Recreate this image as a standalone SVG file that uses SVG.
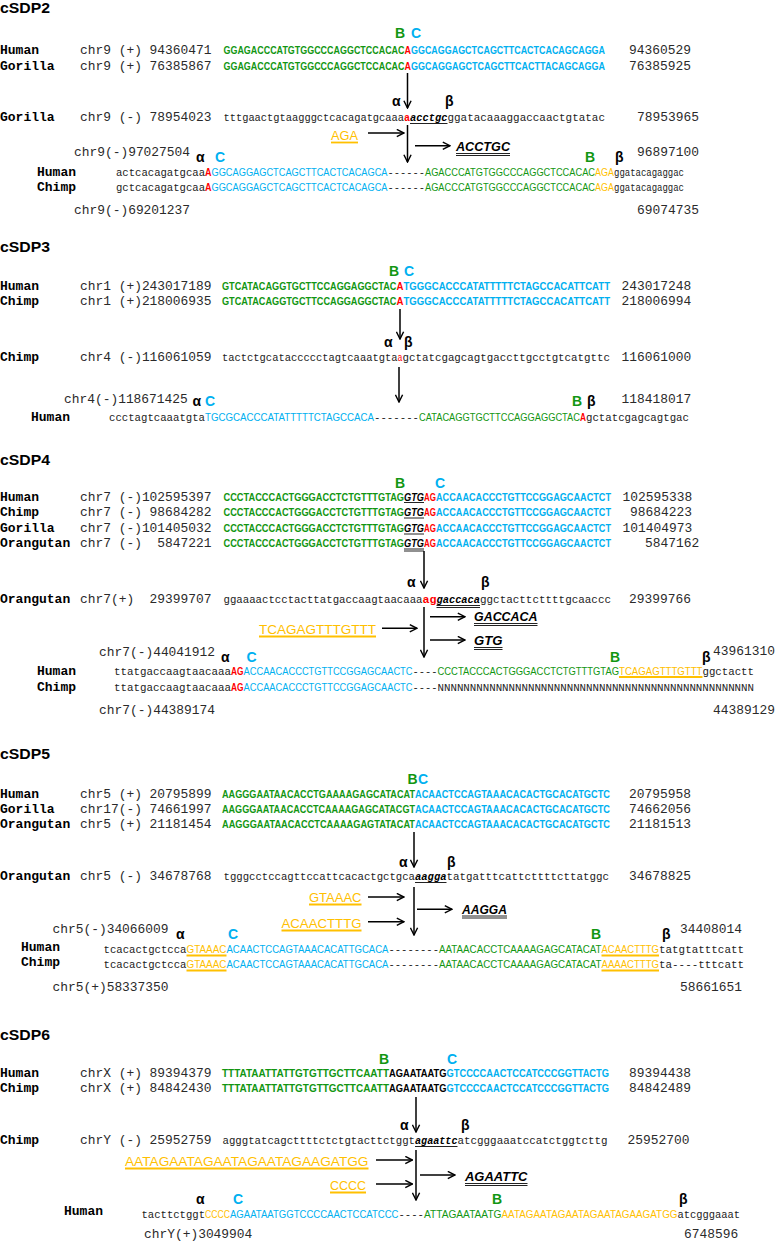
<svg xmlns="http://www.w3.org/2000/svg" width="776" height="1241" viewBox="0 0 776 1241">
<defs>
<style>
text{font-family:'Liberation Sans',Arial,sans-serif}
.ti{font-weight:bold;font-size:15px}
.sp{font-family:'Liberation Mono','Courier New',monospace;font-weight:bold;font-size:13px}
.co{font-family:'Liberation Mono','Courier New',monospace;font-size:12.9px;fill:#2a2a2a;white-space:pre}
.su{font-weight:bold;font-size:10px}
.sb{font-size:10.5px}
.lc{font-family:'Liberation Mono','Courier New',monospace;font-size:10.6px;fill:#222}
.gk{font-weight:bold;font-size:14px}
.ol{font-size:13px;fill:#FFC000}
.bi{font-weight:bold;font-style:italic;font-size:12.5px}
.g{fill:#129612}.b{fill:#00B0F0}.r{fill:#FF0000}.o{fill:#FFC000}.k{fill:#000}
.bd{font-weight:bold}.it{font-style:italic}
.ul{stroke:#222;stroke-width:1}
.uo{stroke:#FFC000;stroke-width:1.8}
</style>
<marker id="ah" viewBox="0 0 10 10" refX="9" refY="5" markerWidth="9" markerHeight="9" markerUnits="userSpaceOnUse" orient="auto">
<path d="M1,1 L9,5 L1,9" fill="none" stroke="#000" stroke-width="1.6"/>
</marker>
</defs>
<rect width="776" height="1241" fill="#fff"/>

<g id="cSDP2">
<text class="ti" x="0" y="13" textLength="50" lengthAdjust="spacingAndGlyphs">cSDP2</text>
<text class="gk g" x="395" y="38">B</text>
<text class="gk b" x="411" y="38">C</text>
<text class="sp" x="0" y="54">Human</text>
<text class="co" x="80" y="54" xml:space="preserve">chr9 (+) 94360471</text>
<text class="su g" x="223.5" y="54" textLength="181" lengthAdjust="spacingAndGlyphs">GGAGACCCATGTGGCCCAGGCTCCACAC</text>
<text class="su r" x="404.5" y="54" textLength="6.5" lengthAdjust="spacingAndGlyphs">A</text>
<text class="su b" x="411" y="54" textLength="194" lengthAdjust="spacingAndGlyphs">GGCAGGAGCTCAGCTTCACTCACAGCAGGA</text>
<text class="co" x="629" y="54">94360529</text>
<text class="sp" x="0" y="70">Gorilla</text>
<text class="co" x="80" y="70" xml:space="preserve">chr9 (+) 76385867</text>
<text class="su g" x="223.5" y="70" textLength="181" lengthAdjust="spacingAndGlyphs">GGAGACCCATGTGGCCCAGGCTCCACAC</text>
<text class="su r" x="404.5" y="70" textLength="6.5" lengthAdjust="spacingAndGlyphs">A</text>
<text class="su b" x="411" y="70" textLength="194" lengthAdjust="spacingAndGlyphs">GGCAGGAGCTCAGCTTCACTTACAGCAGGA</text>
<text class="co" x="629" y="70">76385925</text>
<text class="gk" x="392" y="106">α</text>
<text class="gk" x="445" y="106">β</text>
<text class="sp" x="0" y="121">Gorilla</text>
<text class="co" x="80" y="121" xml:space="preserve">chr9 (-) 78954023</text>
<text class="lc" x="223.5" y="121" textLength="180.5" lengthAdjust="spacingAndGlyphs">tttgaactgtaagggctcacagatgcaaa</text>
<text class="lc r bd" x="404" y="121" textLength="6" lengthAdjust="spacingAndGlyphs">a</text>
<text class="lc k bd it" x="410" y="121" textLength="37.5" lengthAdjust="spacingAndGlyphs">acctgc</text>
<line class="ul" x1="410" y1="123.5" x2="447.5" y2="123.5"/>
<text class="lc" x="447.5" y="121" textLength="157.5" lengthAdjust="spacingAndGlyphs">ggatacaaaggaccaactgtatac</text>
<text class="co" x="637" y="121">78953965</text>
<text class="ol" x="331" y="139.5" textLength="27" lengthAdjust="spacingAndGlyphs">AGA</text>
<line class="uo" x1="331" y1="142.5" x2="358" y2="142.5"/>
<text class="bi" x="456" y="150.5" textLength="54" lengthAdjust="spacingAndGlyphs">ACCTGC</text>
<line class="ul" x1="456" y1="153.5" x2="510" y2="153.5"/>
<line class="ul" x1="456" y1="155.5" x2="510" y2="155.5"/>
<text class="co" x="74" y="155.5">chr9(-)97027504</text>
<text class="co" x="637" y="155.5">96897100</text>
<text class="gk" x="196" y="162">α</text>
<text class="gk b" x="215" y="162">C</text>
<text class="gk g" x="585" y="162">B</text>
<text class="gk" x="615" y="162">β</text>
<text class="sp" x="37" y="175.5">Human</text>
<text class="lc" x="116" y="175.5" textLength="89" lengthAdjust="spacingAndGlyphs">actcacagatgcaa</text>
<text class="sb r bd" x="205" y="175.5" textLength="6.5" lengthAdjust="spacingAndGlyphs">A</text>
<text class="sb b" x="211.5" y="175.5" textLength="176" lengthAdjust="spacingAndGlyphs">GGCAGGAGCTCAGCTTCACTCACAGCA</text>
<text class="lc" x="387.5" y="175.5" textLength="37.5" lengthAdjust="spacingAndGlyphs">------</text>
<text class="sb g" x="425" y="175.5" textLength="170" lengthAdjust="spacingAndGlyphs">AGACCCATGTGGCCCAGGCTCCACAC</text>
<text class="sb o" x="595" y="175.5" textLength="19" lengthAdjust="spacingAndGlyphs">AGA</text>
<text class="lc" x="614" y="175.5" textLength="70" lengthAdjust="spacingAndGlyphs">ggatacagaggac</text>
<text class="sp" x="37" y="191">Chimp</text>
<text class="lc" x="116" y="191" textLength="89" lengthAdjust="spacingAndGlyphs">gctcacagatgcaa</text>
<text class="sb r bd" x="205" y="191" textLength="6.5" lengthAdjust="spacingAndGlyphs">A</text>
<text class="sb b" x="211.5" y="191" textLength="176" lengthAdjust="spacingAndGlyphs">GGCAGGAGCTCAGCTTCACTCACAGCA</text>
<text class="lc" x="387.5" y="191" textLength="37.5" lengthAdjust="spacingAndGlyphs">------</text>
<text class="sb g" x="425" y="191" textLength="170" lengthAdjust="spacingAndGlyphs">AGACCCATGTGGCCCAGGCTCCACAC</text>
<text class="sb o" x="595" y="191" textLength="19" lengthAdjust="spacingAndGlyphs">AGA</text>
<text class="lc" x="614" y="191" textLength="70" lengthAdjust="spacingAndGlyphs">ggatacagaggac</text>
<text class="co" x="74" y="214">chr9(-)69201237</text>
<text class="co" x="637" y="214">69074735</text>
</g>

<g id="cSDP3">
<text class="ti" x="0" y="251.5" textLength="50" lengthAdjust="spacingAndGlyphs">cSDP3</text>
<text class="gk g" x="389" y="276">B</text>
<text class="gk b" x="404" y="276">C</text>
<text class="sp" x="0" y="289.5">Human</text>
<text class="co" x="80" y="289.5" xml:space="preserve">chr1 (+)243017189</text>
<text class="su g" x="222" y="289.5" textLength="174.5" lengthAdjust="spacingAndGlyphs">GTCATACAGGTGCTTCCAGGAGGCTAC</text>
<text class="su r" x="396.5" y="289.5" textLength="7" lengthAdjust="spacingAndGlyphs">A</text>
<text class="su b" x="403.5" y="289.5" textLength="206.5" lengthAdjust="spacingAndGlyphs">TGGGCACCCATATTTTTCTAGCCACATTCATT</text>
<text class="co" x="621.5" y="289.5">243017248</text>
<text class="sp" x="0" y="304.5">Chimp</text>
<text class="co" x="80" y="304.5" xml:space="preserve">chr1 (+)218006935</text>
<text class="su g" x="222" y="304.5" textLength="174.5" lengthAdjust="spacingAndGlyphs">GTCATACAGGTGCTTCCAGGAGGCTAC</text>
<text class="su r" x="396.5" y="304.5" textLength="7" lengthAdjust="spacingAndGlyphs">A</text>
<text class="su b" x="403.5" y="304.5" textLength="206.5" lengthAdjust="spacingAndGlyphs">TGGGCACCCATATTTTTCTAGCCACATTCATT</text>
<text class="co" x="621.5" y="304.5">218006994</text>
<text class="gk" x="384" y="347">α</text>
<text class="gk" x="404" y="347">β</text>
<text class="sp" x="0" y="361">Chimp</text>
<text class="co" x="80" y="361" xml:space="preserve">chr4 (-)116061059</text>
<text class="lc" x="222" y="361" textLength="175.5" lengthAdjust="spacingAndGlyphs">tactctgcataccccctagtcaaatgta</text>
<text class="lc r" x="397.5" y="361" textLength="5" lengthAdjust="spacingAndGlyphs">a</text>
<text class="lc" x="402.5" y="361" textLength="207.5" lengthAdjust="spacingAndGlyphs">gctatcgagcagtgaccttgcctgtcatgttc</text>
<text class="co" x="621.5" y="361">116061000</text>
<text class="co" x="64" y="402.5">chr4(-)118671425</text>
<text class="co" x="621.5" y="402.5">118418017</text>
<text class="gk" x="192.5" y="406">α</text>
<text class="gk b" x="205" y="406">C</text>
<text class="gk g" x="572" y="406">B</text>
<text class="gk" x="587" y="406">β</text>
<text class="sp" x="31" y="420.5">Human</text>
<text class="lc" x="109" y="420.5" textLength="96" lengthAdjust="spacingAndGlyphs">ccctagtcaaatgta</text>
<text class="sb b" x="205" y="420.5" textLength="169" lengthAdjust="spacingAndGlyphs">TGCGCACCCATATTTTTCTAGCCACA</text>
<text class="lc" x="374" y="420.5" textLength="45" lengthAdjust="spacingAndGlyphs">-------</text>
<text class="sb g" x="419" y="420.5" textLength="161" lengthAdjust="spacingAndGlyphs">CATACAGGTGCTTCCAGGAGGCTAC</text>
<text class="sb r bd" x="580" y="420.5" textLength="6" lengthAdjust="spacingAndGlyphs">A</text>
<text class="lc" x="586" y="420.5" textLength="103" lengthAdjust="spacingAndGlyphs">gctatcgagcagtgac</text>
</g>

<g id="cSDP4">
<text class="ti" x="0" y="465" textLength="50" lengthAdjust="spacingAndGlyphs">cSDP4</text>
<text class="gk g" x="395" y="488">B</text>
<text class="gk b" x="435" y="488">C</text>
<text class="sp" x="0" y="500.5">Human</text>
<text class="co" x="80" y="500.5" xml:space="preserve">chr7 (-)102595397</text>
<text class="su g" x="223.5" y="500.5" textLength="180.5" lengthAdjust="spacingAndGlyphs">CCCTACCCACTGGGACCTCTGTTTGTAG</text>
<text class="su k it" x="404" y="500.5" textLength="20" lengthAdjust="spacingAndGlyphs">GTG</text>
<text class="su r" x="424" y="500.5" textLength="12" lengthAdjust="spacingAndGlyphs">AG</text>
<text class="su b" x="436" y="500.5" textLength="175" lengthAdjust="spacingAndGlyphs">ACCAACACCCTGTTCCGGAGCAACTCT</text>
<text class="co" x="622.5" y="500.5">102595338</text>
<text class="sp" x="0" y="516">Chimp</text>
<text class="co" x="80" y="516" xml:space="preserve">chr7 (-) 98684282</text>
<text class="su g" x="223.5" y="516" textLength="180.5" lengthAdjust="spacingAndGlyphs">CCCTACCCACTGGGACCTCTGTTTGTAG</text>
<text class="su k it" x="404" y="516" textLength="20" lengthAdjust="spacingAndGlyphs">GTG</text>
<text class="su r" x="424" y="516" textLength="12" lengthAdjust="spacingAndGlyphs">AG</text>
<text class="su b" x="436" y="516" textLength="175" lengthAdjust="spacingAndGlyphs">ACCAACACCCTGTTCCGGAGCAACTCT</text>
<text class="co" x="630" y="516">98684223</text>
<text class="sp" x="0" y="532">Gorilla</text>
<text class="co" x="80" y="532" xml:space="preserve">chr7 (-)101405032</text>
<text class="su g" x="223.5" y="532" textLength="180.5" lengthAdjust="spacingAndGlyphs">CCCTACCCACTGGGACCTCTGTTTGTAG</text>
<text class="su k it" x="404" y="532" textLength="20" lengthAdjust="spacingAndGlyphs">GTG</text>
<text class="su r" x="424" y="532" textLength="12" lengthAdjust="spacingAndGlyphs">AG</text>
<text class="su b" x="436" y="532" textLength="175" lengthAdjust="spacingAndGlyphs">ACCAACACCCTGTTCCGGAGCAACTCT</text>
<text class="co" x="622.5" y="532">101404973</text>
<text class="sp" x="0" y="547">Orangutan</text>
<text class="co" x="80" y="547" xml:space="preserve">chr7 (-)  5847221</text>
<text class="su g" x="223.5" y="547" textLength="180.5" lengthAdjust="spacingAndGlyphs">CCCTACCCACTGGGACCTCTGTTTGTAG</text>
<text class="su k it" x="404" y="547" textLength="20" lengthAdjust="spacingAndGlyphs">GTG</text>
<text class="su r" x="424" y="547" textLength="12" lengthAdjust="spacingAndGlyphs">AG</text>
<text class="su b" x="436" y="547" textLength="175" lengthAdjust="spacingAndGlyphs">ACCAACACCCTGTTCCGGAGCAACTCT</text>
<text class="co" x="645" y="547">5847162</text>
<path class="ul" d="M404,502.5H424M404,518H424M404,534H424M404,549H424M404,551H424" stroke-width="0.8"/>
<text class="gk" x="407" y="587">α</text>
<text class="gk" x="481" y="587">β</text>
<text class="sp" x="0" y="603">Orangutan</text>
<text class="co" x="80" y="603" xml:space="preserve">chr7(+)  29399707</text>
<text class="lc" x="223.5" y="603" textLength="199" lengthAdjust="spacingAndGlyphs">ggaaaactcctacttatgaccaagtaacaaa</text>
<text class="lc r bd" x="422.5" y="603" textLength="14" lengthAdjust="spacingAndGlyphs">ag</text>
<text class="lc k bd it" x="436.5" y="603" textLength="43.5" lengthAdjust="spacingAndGlyphs">gaccaca</text>
<path class="ul" d="M436.5,605.5H480M436.5,607.5H480"/>
<text class="lc" x="480" y="603" textLength="131" lengthAdjust="spacingAndGlyphs">ggctacttcttttgcaaccc</text>
<text class="co" x="629" y="603">29399766</text>
<text class="bi" x="474" y="621" textLength="63.5" lengthAdjust="spacingAndGlyphs">GACCACA</text>
<path class="ul" d="M474,623.5H537.5M474,625.5H537.5"/>
<text class="bi" x="474" y="644.5" textLength="28.5" lengthAdjust="spacingAndGlyphs">GTG</text>
<path class="ul" d="M474,647.5H502.5M474,649.5H502.5"/>
<text class="ol" x="259" y="633.5" textLength="117" lengthAdjust="spacingAndGlyphs">TCAGAGTTTGTTT</text>
<line class="uo" x1="259" y1="636.5" x2="376" y2="636.5"/>
<text class="co" x="99" y="655.5">chr7(-)44041912</text>
<text class="co" x="775" y="655" text-anchor="end">43961310</text>
<text class="gk" x="221" y="661.5">α</text>
<text class="gk b" x="246.5" y="661.5">C</text>
<text class="gk g" x="610" y="661.5">B</text>
<text class="gk" x="702" y="661.5">β</text>
<text class="sp" x="37" y="674.5">Human</text>
<text class="lc" x="114" y="674.5" textLength="117" lengthAdjust="spacingAndGlyphs">ttatgaccaagtaacaaa</text>
<text class="sb r bd" x="231" y="674.5" textLength="12.5" lengthAdjust="spacingAndGlyphs">AG</text>
<text class="sb b" x="243.5" y="674.5" textLength="169" lengthAdjust="spacingAndGlyphs">ACCAACACCCTGTTCCGGAGCAACTC</text>
<text class="lc" x="412.5" y="674.5" textLength="25" lengthAdjust="spacingAndGlyphs">----</text>
<text class="sb g" x="437.5" y="674.5" textLength="181.5" lengthAdjust="spacingAndGlyphs">CCCTACCCACTGGGACCTCTGTTTGTAG</text>
<text class="sb o" x="619" y="674.5" textLength="83.5" lengthAdjust="spacingAndGlyphs">TCAGAGTTTGTTT</text>
<line class="uo" x1="619" y1="677" x2="702.5" y2="677" stroke-width="1.3"/>
<text class="lc" x="702.5" y="674.5" textLength="51.5" lengthAdjust="spacingAndGlyphs">ggctactt</text>
<text class="sp" x="37" y="691">Chimp</text>
<text class="lc" x="114" y="691" textLength="117" lengthAdjust="spacingAndGlyphs">ttatgaccaagtaacaaa</text>
<text class="sb r bd" x="231" y="691" textLength="12.5" lengthAdjust="spacingAndGlyphs">AG</text>
<text class="sb b" x="243.5" y="691" textLength="169" lengthAdjust="spacingAndGlyphs">ACCAACACCCTGTTCCGGAGCAACTC</text>
<text class="lc" x="412.5" y="691" textLength="25" lengthAdjust="spacingAndGlyphs">----</text>
<text class="lc" x="437.5" y="691" textLength="316.5" lengthAdjust="spacingAndGlyphs">NNNNNNNNNNNNNNNNNNNNNNNNNNNNNNNNNNNNNNNNNNNNNNNNN</text>
<text class="co" x="99" y="714">chr7(-)44389174</text>
<text class="co" x="775" y="714" text-anchor="end">44389129</text>
</g>

<g id="cSDP5">
<text class="ti" x="0" y="758.5" textLength="50" lengthAdjust="spacingAndGlyphs">cSDP5</text>
<text class="gk g" x="407.5" y="783.5">B</text>
<text class="gk b" x="418" y="783.5">C</text>
<text class="sp" x="0" y="798">Human</text>
<text class="co" x="80" y="798" xml:space="preserve">chr5 (+) 20795899</text>
<text class="su g" x="222" y="798" textLength="193" lengthAdjust="spacingAndGlyphs">AAGGGAATAACACCTGAAAAGAGCATACAT</text>
<text class="su b" x="415" y="798" textLength="195" lengthAdjust="spacingAndGlyphs">ACAACTCCAGTAAACACACTGCACATGCTC</text>
<text class="co" x="629" y="798">20795958</text>
<text class="sp" x="0" y="813">Gorilla</text>
<text class="co" x="80" y="813" xml:space="preserve">chr17(-) 74661997</text>
<text class="su g" x="222" y="813" textLength="193" lengthAdjust="spacingAndGlyphs">AAGGGAATAACACCTCAAAAGAGCATACGT</text>
<text class="su b" x="415" y="813" textLength="195" lengthAdjust="spacingAndGlyphs">ACAACTCCAGTAAACACACTGCACATGCTC</text>
<text class="co" x="629" y="813">74662056</text>
<text class="sp" x="0" y="828">Orangutan</text>
<text class="co" x="80" y="828" xml:space="preserve">chr5 (+) 21181454</text>
<text class="su g" x="222" y="828" textLength="193" lengthAdjust="spacingAndGlyphs">AAGGGAATAACACCTCAAAAGAGTATACAT</text>
<text class="su b" x="415" y="828" textLength="195" lengthAdjust="spacingAndGlyphs">ACAACTCCAGTAAACACACTGCACATGCTC</text>
<text class="co" x="629" y="828">21181513</text>
<text class="gk" x="399" y="866.5">α</text>
<text class="gk" x="447" y="866.5">β</text>
<text class="sp" x="0" y="880">Orangutan</text>
<text class="co" x="80" y="880" xml:space="preserve">chr5 (-) 34678768</text>
<text class="lc" x="223.5" y="880" textLength="191.5" lengthAdjust="spacingAndGlyphs">tgggcctccagttccattcacactgctgca</text>
<text class="lc k bd it" x="415" y="880" textLength="31.5" lengthAdjust="spacingAndGlyphs">aagga</text>
<line class="ul" x1="415" y1="882.5" x2="446.5" y2="882.5"/>
<text class="lc" x="446.5" y="880" textLength="162.5" lengthAdjust="spacingAndGlyphs">tatgatttcattcttttcttatggc</text>
<text class="co" x="629" y="880">34678825</text>
<text class="ol" x="309" y="901.5" textLength="52.5" lengthAdjust="spacingAndGlyphs">GTAAAC</text>
<line class="uo" x1="309" y1="904.5" x2="361.5" y2="904.5"/>
<text class="bi" x="462" y="913.5" textLength="45" lengthAdjust="spacingAndGlyphs">AAGGA</text>
<path class="ul" d="M462,916H507M462,918H507"/>
<text class="ol" x="281.5" y="927.5" textLength="80" lengthAdjust="spacingAndGlyphs">ACAACTTTG</text>
<line class="uo" x1="281.5" y1="930.5" x2="361.5" y2="930.5"/>
<text class="co" x="52.5" y="932.5">chr5(-)34066009</text>
<text class="co" x="680" y="932.5">34408014</text>
<text class="gk" x="176" y="938.5">α</text>
<text class="gk b" x="228" y="938.5">C</text>
<text class="gk g" x="591" y="938.5">B</text>
<text class="gk" x="662" y="938.5">β</text>
<text class="sp" x="21" y="950.5">Human</text>
<text class="lc" x="103.5" y="953" textLength="83" lengthAdjust="spacingAndGlyphs">tcacactgctcca</text>
<text class="sb o" x="186.5" y="953" textLength="40" lengthAdjust="spacingAndGlyphs">GTAAAC</text>
<text class="sb b" x="226.5" y="953" textLength="162" lengthAdjust="spacingAndGlyphs">ACAACTCCAGTAAACACATTGCACA</text>
<text class="lc" x="388.5" y="953" textLength="50.5" lengthAdjust="spacingAndGlyphs">--------</text>
<text class="sb g" x="439" y="953" textLength="162.5" lengthAdjust="spacingAndGlyphs">AATAACACCTCAAAAGAGCATACAT</text>
<text class="sb o" x="601.5" y="953" textLength="57.5" lengthAdjust="spacingAndGlyphs">ACAACTTTG</text>
<text class="lc" x="659" y="953" textLength="85" lengthAdjust="spacingAndGlyphs">tatgtatttcatt</text>
<text class="sp" x="21" y="966">Chimp</text>
<text class="lc" x="103.5" y="968" textLength="83" lengthAdjust="spacingAndGlyphs">tcacactgctcca</text>
<text class="sb o" x="186.5" y="968" textLength="40" lengthAdjust="spacingAndGlyphs">GTAAAC</text>
<text class="sb b" x="226.5" y="968" textLength="162" lengthAdjust="spacingAndGlyphs">ACAACTCCAGTAAACACATTGCACA</text>
<text class="lc" x="388.5" y="968" textLength="50.5" lengthAdjust="spacingAndGlyphs">--------</text>
<text class="sb g" x="439" y="968" textLength="162.5" lengthAdjust="spacingAndGlyphs">AATAACACCTCAAAAGAGCATACAT</text>
<text class="sb o" x="601.5" y="968" textLength="57.5" lengthAdjust="spacingAndGlyphs">AAAACTTTG</text>
<text class="lc" x="659" y="968" textLength="85" lengthAdjust="spacingAndGlyphs">ta----tttcatt</text>
<path class="uo" stroke-width="1.3" d="M186.5,955.5H226.5M601.5,955.5H659M186.5,970.5H226.5M601.5,970.5H659"/>
<text class="co" x="52.5" y="991">chr5(+)58337350</text>
<text class="co" x="680" y="991">58661651</text>
</g>

<g id="cSDP6">
<text class="ti" x="0" y="1040" textLength="50" lengthAdjust="spacingAndGlyphs">cSDP6</text>
<text class="gk g" x="379" y="1063.5">B</text>
<text class="gk b" x="447" y="1063.5">C</text>
<text class="sp" x="0" y="1076.5">Human</text>
<text class="co" x="80" y="1076.5" xml:space="preserve">chrX (+) 89394379</text>
<text class="su g" x="222" y="1076.5" textLength="167" lengthAdjust="spacingAndGlyphs">TTTATAATTATTGTGTTGCTTCAATT</text>
<text class="su k" x="389" y="1076.5" textLength="57.5" lengthAdjust="spacingAndGlyphs">AGAATAATG</text>
<text class="su b" x="446.5" y="1076.5" textLength="162.5" lengthAdjust="spacingAndGlyphs">GTCCCCAACTCCATCCCGGTTACTG</text>
<text class="co" x="629" y="1076.5">89394438</text>
<text class="sp" x="0" y="1092">Chimp</text>
<text class="co" x="80" y="1092" xml:space="preserve">chrX (+) 84842430</text>
<text class="su g" x="222" y="1092" textLength="167" lengthAdjust="spacingAndGlyphs">TTTATAATTATTGTGTTGCTTCAATT</text>
<text class="su k" x="389" y="1092" textLength="57.5" lengthAdjust="spacingAndGlyphs">AGAATAATG</text>
<text class="su b" x="446.5" y="1092" textLength="162.5" lengthAdjust="spacingAndGlyphs">GTCCCCAACTCCATCCCGGTTACTG</text>
<text class="co" x="629" y="1092">84842489</text>
<text class="gk" x="400" y="1129.5">α</text>
<text class="gk" x="461" y="1129.5">β</text>
<text class="sp" x="0" y="1144">Chimp</text>
<text class="co" x="80" y="1144" xml:space="preserve">chrY (-) 25952759</text>
<text class="lc" x="222.5" y="1144" textLength="192.5" lengthAdjust="spacingAndGlyphs">agggtatcagcttttctctgtacttctggt</text>
<text class="lc k bd it" x="415" y="1144" textLength="42.5" lengthAdjust="spacingAndGlyphs">agaattc</text>
<line class="ul" x1="415" y1="1146.5" x2="457.5" y2="1146.5"/>
<text class="lc" x="457.5" y="1144" textLength="150" lengthAdjust="spacingAndGlyphs">atcgggaaatccatctggtcttg</text>
<text class="co" x="627.5" y="1144">25952700</text>
<text class="ol" x="125" y="1165.5" textLength="243.5" lengthAdjust="spacingAndGlyphs">AATAGAATAGAATAGAATAGAAGATGG</text>
<line class="uo" x1="125" y1="1168.5" x2="368.5" y2="1168.5"/>
<text class="bi" x="465" y="1180.5" textLength="62.5" lengthAdjust="spacingAndGlyphs">AGAATTC</text>
<path class="ul" d="M465,1183.5H527.5M465,1185.5H527.5"/>
<text class="ol" x="330" y="1189.5" textLength="36" lengthAdjust="spacingAndGlyphs">CCCC</text>
<line class="uo" x1="330" y1="1192.5" x2="366" y2="1192.5"/>
<text class="gk" x="196" y="1203.5">α</text>
<text class="gk b" x="233" y="1203.5">C</text>
<text class="gk g" x="492" y="1203.5">B</text>
<text class="gk" x="679" y="1203.5">β</text>
<text class="sp" x="64" y="1215">Human</text>
<text class="lc" x="141.5" y="1218" textLength="63.5" lengthAdjust="spacingAndGlyphs">tacttctggt</text>
<text class="sb o" x="205" y="1218" textLength="25" lengthAdjust="spacingAndGlyphs">CCCC</text>
<text class="sb b" x="230" y="1218" textLength="168.5" lengthAdjust="spacingAndGlyphs">AGAATAATGGTCCCCAACTCCATCCC</text>
<text class="lc" x="398.5" y="1218" textLength="25.5" lengthAdjust="spacingAndGlyphs">----</text>
<text class="sb g" x="424" y="1218" textLength="77.5" lengthAdjust="spacingAndGlyphs">ATTAGAATAATG</text>
<text class="sb o" x="501.5" y="1218" textLength="176" lengthAdjust="spacingAndGlyphs">AATAGAATAGAATAGAATAGAAGATGG</text>
<text class="lc" x="677.5" y="1218" textLength="62.5" lengthAdjust="spacingAndGlyphs">atcgggaaat</text>
<text class="co" x="144" y="1238">chrY(+)3049904</text>
<text class="co" x="684" y="1238">6748596</text>
</g>

<g id="connectors" stroke="#000" stroke-width="1.5" fill="none" marker-end="url(#ah)">
<line x1="407.5" y1="73" x2="407.5" y2="108"/>
<line x1="368" y1="133" x2="404" y2="133"/>
<line x1="407.5" y1="125" x2="407.5" y2="162"/>
<line x1="415" y1="145.7" x2="450" y2="145.7"/>
<line x1="400" y1="309" x2="400" y2="339"/>
<line x1="399" y1="367" x2="399" y2="402"/>
<line x1="424" y1="551" x2="424" y2="588"/>
<line x1="424" y1="607" x2="424" y2="657"/>
<line x1="430" y1="616.7" x2="465" y2="616.7"/>
<line x1="430" y1="640" x2="465" y2="640"/>
<line x1="382" y1="628.3" x2="417" y2="628.3"/>
<line x1="414" y1="832" x2="414" y2="867"/>
<line x1="368" y1="897" x2="404" y2="897"/>
<line x1="414" y1="887" x2="414" y2="935"/>
<line x1="417" y1="909.3" x2="452" y2="909.3"/>
<line x1="368" y1="921.7" x2="404" y2="921.7"/>
<line x1="416" y1="1097" x2="416" y2="1132"/>
<line x1="376" y1="1160" x2="412.5" y2="1160"/>
<line x1="416" y1="1150" x2="416" y2="1200"/>
<line x1="420" y1="1175" x2="455" y2="1175"/>
<line x1="376" y1="1184" x2="412.5" y2="1184"/>
</g>
</svg>
